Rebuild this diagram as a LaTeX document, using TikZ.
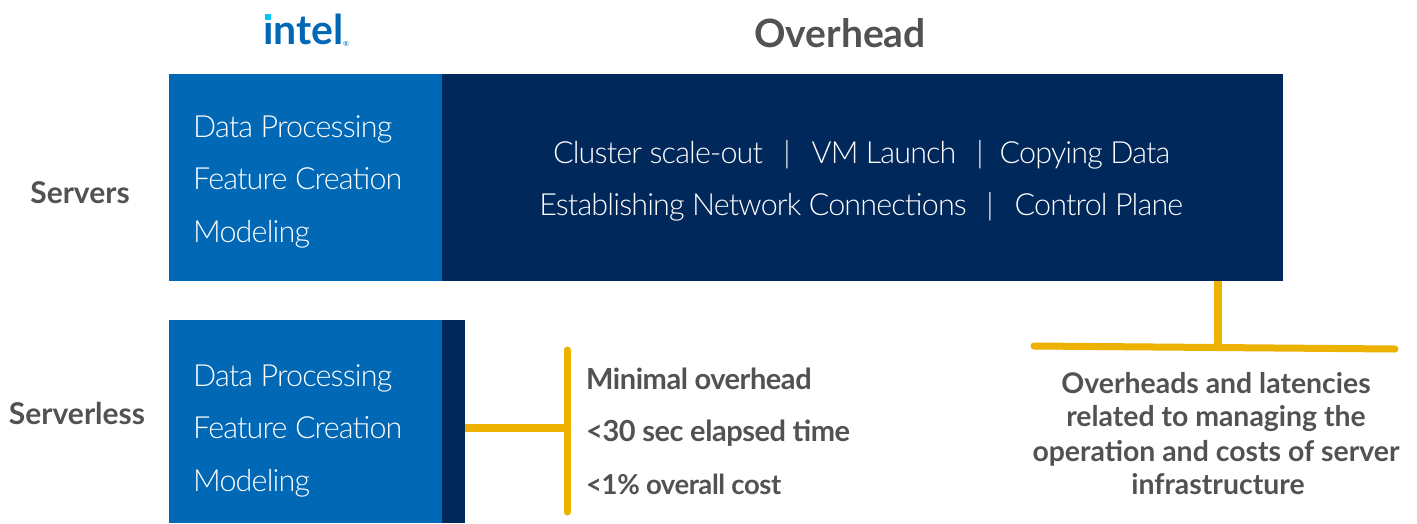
\documentclass[tikz,border=0pt]{standalone}
\usepackage{fontspec}
\setmainfont{Lato}
\newfontfamily\latolight[LetterSpace=-2.8]{Lato Light}
\newfontfamily\latotight[LetterSpace=-1.6]{Lato}
\definecolor{ibrand}{HTML}{0068B5}
\definecolor{inavy}{HTML}{00285A}
\definecolor{iyellow}{HTML}{EDB200}
\definecolor{igray}{HTML}{525252}
\definecolor{icyan}{HTML}{00C7FD}
\tikzset{
  x=1pt,y=-1pt,
  box/.style={inner sep=0pt,outer sep=0pt,minimum width=#1},
  rowtext/.style={text=white,inner sep=0pt,font=\latolight\fontsize{30.5}{32}\selectfont,anchor=base west},
  midtext/.style={text=white,inner sep=0pt,font=\latolight\fontsize{30.5}{32}\selectfont,anchor=base},
  sidelabel/.style={text=igray,inner sep=0pt,font=\bfseries\fontsize{30}{32}\selectfont,anchor=base},
  notetext/.style={text=igray,inner sep=0pt,font=\latotight\bfseries\fontsize{29}{32}\selectfont,anchor=base west},
  capt/.style={text=igray,inner sep=0pt,font=\bfseries\fontsize{28.4}{32}\selectfont,anchor=base},
  rail/.style={draw=iyellow,line width=7pt,line cap=round},
  stem/.style={draw=iyellow,line width=8pt}
}
\begin{document}
\begin{tikzpicture}
\useasboundingbox (0,0) rectangle (1417,523);
\fill[white] (0,0) rectangle (1417,523);
% boxes
\node[fill=ibrand,box=273pt,minimum height=207pt,anchor=north west] (srvblue) at (169,74) {};
\node[fill=inavy,box=841pt,minimum height=207pt,anchor=north west] (srvnavy) at (442,74) {};
\node[fill=ibrand,box=273pt,minimum height=203pt,anchor=north west] (slsblue) at (169,320) {};
\node[fill=inavy,box=23pt,minimum height=203pt,anchor=north west] (slsnavy) at (442,320) {};
% logo
\node[text=ibrand,inner sep=0pt,anchor=base west,font=\fontsize{41}{41}\selectfont\bfseries] (logo) at (263,44) {ıntel};
\node[fill=icyan,inner sep=0pt,minimum size=6pt,anchor=north west] (logodot) at (265,14) {};
\node[text=ibrand,inner sep=0pt,anchor=base west,font=\fontsize{7}{7}\selectfont] (logor) at (343,46) {®};
% headers
\node[capt,font=\bfseries\fontsize{39}{42}\selectfont] (head) at (840,47) {Overhead};
\node[sidelabel] (servers) at (80,203) {Servers};
\node[sidelabel] (serverless) at (77,424) {Serverless};
% left rows
\node[rowtext] (a1) at (193,137) {Data Processing};
\node[rowtext] (a2) at (193,189) {Feature Creation};
\node[rowtext] (a3) at (193,242) {Modeling};
\node[rowtext] (b1) at (193,386) {Data Processing};
\node[rowtext] (b2) at (193,438) {Feature Creation};
\node[rowtext] (b3) at (193,491) {Modeling};
% overhead text
\node[midtext] (o1) at (658,163) {Cluster scale-out};
\node[midtext] (o2) at (787,163) {|};
\node[midtext] (o3) at (884,163) {VM Launch};
\node[midtext] (o4) at (980,163) {|};
\node[midtext] (o5) at (1085,163) {Copying Data};
\node[midtext] (o6) at (753,215) {Establishing Network Connections};
\node[midtext] (o7) at (990,215) {|};
\node[midtext] (o8) at (1099,215) {Control Plane};
% notes
\node[notetext] (n1) at (586,389) {Minimal overhead};
\node[notetext] (n2) at (586,441) {<30 sec elapsed time};
\node[notetext,font=\latotight\bfseries\fontsize{27.5}{32}\selectfont] (n3) at (586,494) {<1\% overall cost};
\node[capt] (c1) at (1216,393) {Overheads and latencies};
\node[capt] (c2) at (1216,426) {related to managing the};
\node[capt] (c3) at (1216,461) {operation and costs of server};
\node[capt] (c4) at (1218,494) {infrastructure};
% connectors
\coordinate (rt) at (567,350);
\coordinate (rb) at (567,512);
\coordinate (rm) at (567,428);
\coordinate (ht) at (1034,346);
\coordinate (hb) at (1395,349);
\coordinate (hm) at (1218,347);
\draw[rail] (rt) -- (rb);
\draw[stem] (slsnavy.east |- rm) -- (rm);
\draw[rail] (ht) -- (hb);
\draw[stem] (hm |- srvnavy.south) -- (hm);
\end{tikzpicture}
\end{document}
